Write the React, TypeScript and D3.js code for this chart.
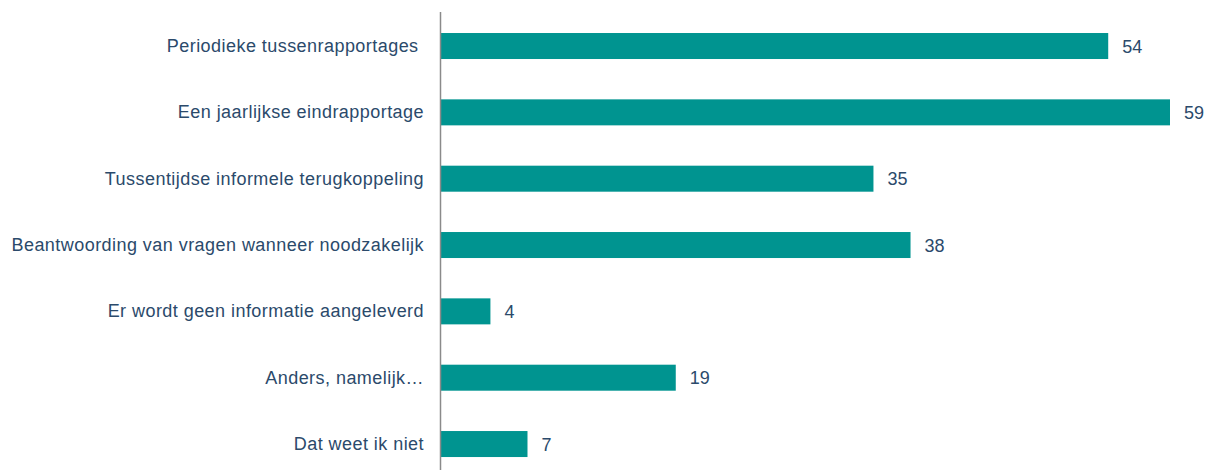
import React from "react";
import * as d3 from "d3";

const categories = [
  "Periodieke tussenrapportages ",
  "Een jaarlijkse eindrapportage",
  "Tussentijdse informele terugkoppeling",
  "Beantwoording van vragen wanneer noodzakelijk",
  "Er wordt geen informatie aangeleverd",
  "Anders, namelijk…",
  "Dat weet ik niet",
];
const values = [54, 59, 35, 38, 4, 19, 7];

const W = 1208;
const H = 470;
const TEAL = "#009490";
const TEXT = "#2b4a6b";

export default function App() {
  const x = d3.scaleLinear().domain([0, 59]).range([441, 1170]);
  const y = d3
    .scaleBand<string>()
    .domain(categories)
    .range([12.85, 477.2])
    .paddingInner(0.608)
    .paddingOuter(0.304);
  const font = "'Liberation Sans', Arial, sans-serif";
  return (
    <svg
      width={W}
      height={H}
      style={{ position: "absolute", left: 0, top: 0, display: "block" }}
      fontFamily={font}
    >
      <rect width={W} height={H} fill="#fff" />
      {categories.map((c, i) => {
        const yy = y(c)!;
        const bw = y.bandwidth();
        return (
          <g key={c}>
            <rect
              x={x(0)}
              y={yy}
              width={x(values[i]) - x(0)}
              height={bw}
              fill={TEAL}
            />
            <text
              x={424}
              y={yy + bw / 2 + 6}
              textAnchor="end"
              fontSize={18}
              letterSpacing={0.45}
              fill={TEXT}
              style={{ whiteSpace: "pre" }}
            >
              {c}
            </text>
            <text
              x={x(values[i]) + 14}
              y={yy + bw / 2 + 6.5}
              fontSize={18}
              fill={TEXT}
            >
              {values[i]}
            </text>
          </g>
        );
      })}
      <line x1={440.5} x2={440.5} y1={12} y2={H} stroke="#8a8a8a" strokeWidth={1.5} />
    </svg>
  );
}
